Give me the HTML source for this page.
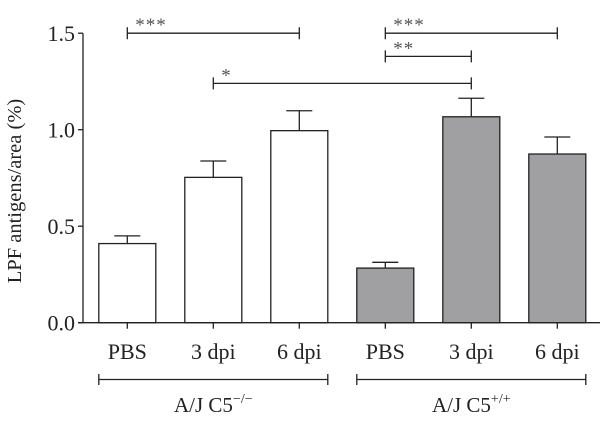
<!DOCTYPE html>
<html><head><meta charset="utf-8"><style>
html,body{margin:0;padding:0;background:#fff;}
svg{display:block;font-family:"Liberation Serif",serif;}
</style></head><body>
<svg id="chart" width="600" height="421" viewBox="0 0 600 421" xmlns="http://www.w3.org/2000/svg"></svg>
<script>
const categories = ["PBS","3 dpi","6 dpi","PBS","3 dpi","6 dpi"];
const means = [0.41, 0.753, 0.995, 0.283, 1.067, 0.874];
const errors = [0.04, 0.085, 0.103, 0.03, 0.096, 0.088];
const groupFill = ["#ffffff","#ffffff","#ffffff","#a0a0a3","#a0a0a3","#a0a0a3"];
const yTicks = [0.0, 0.5, 1.0, 1.5];
const yTickLabels = ["0.0","0.5","1.0","1.5"];
const groups = ["A/J C5", "A/J C5"];
const groupSup = ["\u2212/\u2212", "+/+"];
const sigFrom = [0, 3, 3, 1];
const sigTo = [2, 5, 4, 4];
const sigLevel = [1.5, 1.5, 1.38, 1.24];
const sigText = ["***","***","**","*"];

const NS="http://www.w3.org/2000/svg";
const svg=document.getElementById('chart');
const x0=83, y0=322.7, unit=193, step=86, first=127.3, bw=57;
const xC=i=>first+i*step;
const yS=v=>y0-v*unit;
function mk(t,a,p){const e=document.createElementNS(NS,t);for(const k in a)e.setAttribute(k,a[k]);(p||svg).appendChild(e);return e;}

// y axis
const ax=mk('line',{x1:x0,y1:yS(1.5),x2:x0,y2:y0,stroke:'#222','stroke-width':1.3});


yTicks.forEach((v,i)=>{
  const t=mk('line',{x1:x0-5,y1:yS(v),x2:x0,y2:yS(v),stroke:'#222','stroke-width':1.3});
  
  
  const l=mk('text',{x:x0-8,y:yS(v)+8,'text-anchor':'end','font-size':22,fill:'#222'});
  l.textContent=yTickLabels[i];
  
  
});
const yt=mk('text',{transform:'translate(21,191) rotate(-90)','text-anchor':'middle','font-size':20.5,fill:'#222'});
yt.textContent='LPF antigens/area (%)';



// bars
means.forEach((m,i)=>{
  const cx=xC(i);
  const e=mk('line',{x1:cx,y1:yS(m),x2:cx,y2:yS(m+errors[i]),stroke:'#222','stroke-width':1.3});
  
  
  const c=mk('line',{x1:cx-13,y1:yS(m+errors[i]),x2:cx+13,y2:yS(m+errors[i]),stroke:'#222','stroke-width':1.3});
  
  
  const b=mk('rect',{x:cx-bw/2,y:yS(m),width:bw,height:y0-yS(m),fill:groupFill[i],stroke:'#222','stroke-width':1.3});
  
  
  const t=mk('line',{x1:cx,y1:y0,x2:cx,y2:y0+6,stroke:'#222','stroke-width':1.3});
  
  
  const l=mk('text',{x:cx,y:359,'text-anchor':'middle','font-size':22,fill:'#222'});
  l.textContent=categories[i];
  
  
});
const xa=mk('line',{x1:x0-5,y1:y0,x2:600,y2:y0,stroke:'#222','stroke-width':1.3});



// group brackets
groups.forEach((g,k)=>{
  const a=xC(k*3)-bw/2, b=xC(k*3+2)+bw/2;
  const gl=mk('path',{d:`M${a},${374}V${385}M${a},379.5H${b}M${b},374V385`,stroke:'#222','stroke-width':1.3,fill:'none'});
  
  
  const t=mk('text',{x:(a+b)/2,y:412,'text-anchor':'middle','font-size':21,fill:'#222'});
  
  
  t.textContent=g;
  const s=mk('tspan',{dy:-9,'font-size':14},t);
  s.textContent=groupSup[k];
});

// significance
sigFrom.forEach((f,i)=>{
  const a=xC(f), b=xC(sigTo[i]), y=yS(sigLevel[i]);
  const p=mk('path',{d:`M${a},${y-6}V${y+6}M${a},${y}H${b}M${b},${y-6}V${y+6}`,stroke:'#222','stroke-width':1.3,fill:'none'});
  
  
  const t=mk('text',{x:a+8,y:y-2,'font-size':19,fill:'#555','letter-spacing':'1'});
  t.textContent=sigText[i];
  
  
});
</script>
</body></html>
